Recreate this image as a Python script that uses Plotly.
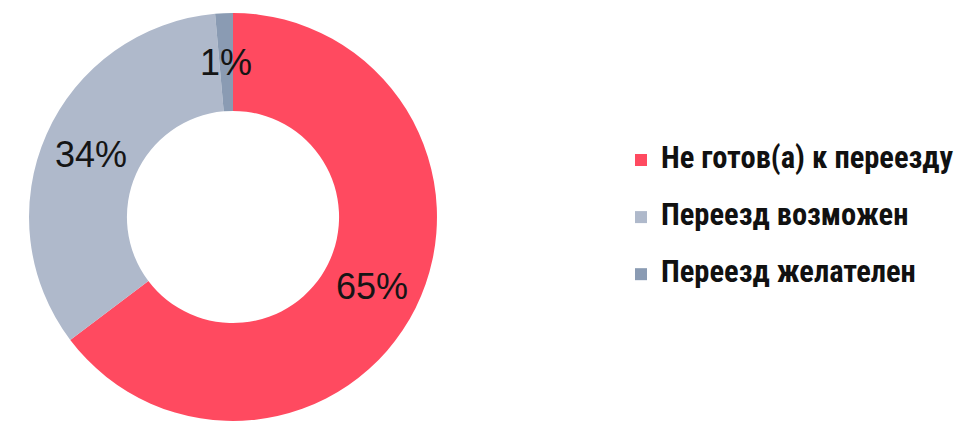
import math
import plotly.graph_objects as go

categories = ["Не готов(а) к переезду", "Переезд возможен", "Переезд желателен"]
values = [64.7, 33.9, 1.4]
colors = ["#FF4A60", "#AFB9CB", "#8A9BB3"]

W, H = 964, 426
dom_x = [0.0301, 0.4533]
dom_y = [0.0117, 0.9695]
hole = 0.52

legend_labels = [
    "<span style='font-size:30.5px'>" + c + "</span><br>\u00a0" for c in categories
]

fig = go.Figure(
    go.Pie(
        labels=legend_labels,
        values=values,
        hole=hole,
        sort=False,
        direction="clockwise",
        rotation=0,
        marker=dict(colors=colors, line=dict(width=0)),
        textinfo="none",
        domain=dict(x=dom_x, y=dom_y),
        hoverinfo="skip",
    )
)

# percentage labels placed within each ring segment (derived from values)
cx = (dom_x[0] + dom_x[1]) / 2 * W
cy = (1 - (dom_y[0] + dom_y[1]) / 2) * H
r_out = min((dom_x[1] - dom_x[0]) * W, (dom_y[1] - dom_y[0]) * H) / 2
r_mid = r_out * (1 + hole) / 2
total = sum(values)
cum = 0.0
for v in values:
    ang = 2 * math.pi * (cum + v / 2) / total
    cum += v
    px = cx + r_mid * math.sin(ang)
    py = cy - r_mid * math.cos(ang)
    fig.add_annotation(
        x=px / W, y=1 - py / H, xref="paper", yref="paper",
        text=f"{round(100 * v / total):.0f}%",
        showarrow=False, xanchor="center", yanchor="middle",
        font=dict(family="Liberation Sans, Arial, sans-serif", size=36, color="#151515"),
    )

fig.update_layout(
    width=W,
    height=H,
    margin=dict(l=0, r=0, t=0, b=0),
    paper_bgcolor="white",
    plot_bgcolor="white",
    legend=dict(
        x=621 / W,
        xanchor="left",
        y=1 - 140 / H,
        yanchor="top",
        valign="top",
        font=dict(family="Liberation Sans Narrow, Roboto Condensed, Arial Narrow, Roboto, sans-serif",
                  size=20.8, color="#111111", weight="bold"),
        bgcolor="rgba(0,0,0,0)",
        borderwidth=0,
    ),
)

fig.write_html("out.html", config={"displayModeBar": False},
               post_script="document.body.style.margin='0';")
